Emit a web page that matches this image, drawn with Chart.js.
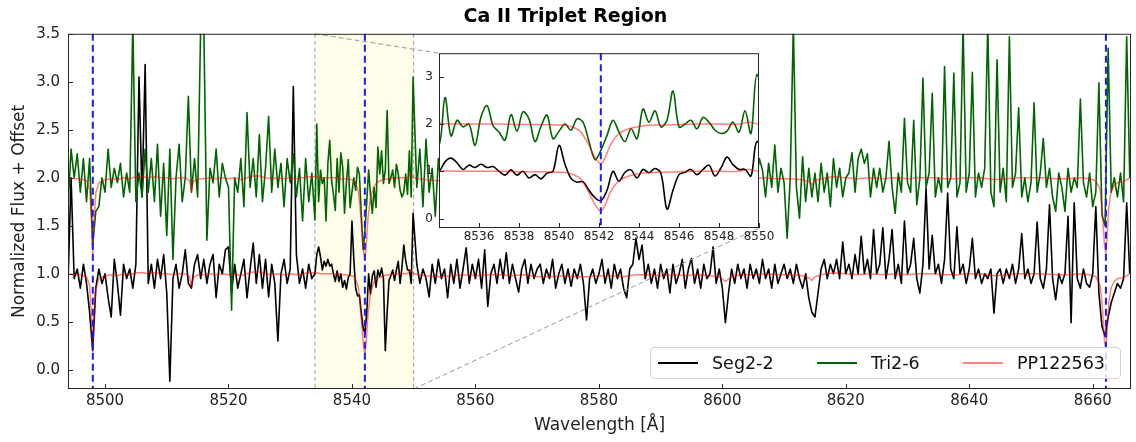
<!DOCTYPE html>
<html>
<head>
<meta charset="utf-8">
<script src="https://cdn.jsdelivr.net/npm/chart.js@4.4.1/dist/chart.umd.min.js"></script>
<style>
  body { margin: 0; background: #fff; }
  #wrap { position: relative; width: 1136px; height: 442px; font-family: 'DejaVu Sans', sans-serif; }
  #mainChart { position: absolute; left: 0; top: 0; }
  #insetChart { position: absolute; left: 400px; top: 40px; }
  #legend {
    position: absolute; left: 650px; top: 347px; width: 471px; height: 32px;
    box-sizing: border-box; border: 1px solid #d4d4d4; border-radius: 4px;
    background: rgba(255,255,255,0.8); display: flex; align-items: center;
    justify-content: space-between; padding: 0 15px 0 7px; font-size: 17.5px; color: #111;
  }
  .item { display: flex; align-items: center; }
  .swatch { width: 40px; height: 0; border-top: 2px solid; margin-right: 14px; }
</style>
</head>
<body>
<div id="wrap">
  <canvas id="mainChart" width="1136" height="442"></canvas>
  <canvas id="insetChart" width="380" height="215"></canvas>
  <div id="legend"></div>
</div>
<script>
const FONT = "'DejaVu Sans', sans-serif";

// wavelength sampling of the two spectra: three pieces, finer inside the zoom window
const gridStarts = [8494.0, 8534.0, 8550.5];
const gridSteps = [0.5, 0.3, 0.5];
const gridCounts = [80, 54, 232];

// Seg2-2 normalized flux
const seg22Flux = [
  // 8494.0 - 8533.5
  0.9, 2.0, 0.95, 1.05, 0.85, 1.1, 0.9, 0.6, 0.2, 0.85,
  1.05, 0.9, 1.0, 0.75, 0.55, 1.15, 0.9, 0.57, 1.1, 0.95,
  1.05, 0.85, 1.1, 3.05, 1.8, 3.18, 0.9, 1.1, 0.85, 1.15,
  0.95, 1.2, 0.8, -0.12, 0.95, 1.1, 0.85, 1.0, 1.25, 0.9,
  0.85, 1.1, 1.2, 0.95, 1.15, 0.9, 1.1, 1.2, 0.75, 1.1,
  1.0, 1.25, 1.28, 0.8, 1.1, 0.85, 1.0, 1.15, 0.75, 1.05,
  1.32, 0.9, 1.2, 0.85, 1.15, 0.76, 1.1, 0.9, 0.3, 1.0,
  1.15, 0.9, 1.05, 2.95, 1.2, 0.9, 1.05, 0.85, 1.1, 0.95,
  // 8534.0 - 8549.9
  1.0, 1.2, 1.28, 1.18, 1.04, 1.13, 1.08, 1.15, 1.08, 1.1,
  1.0, 0.92, 1.03, 0.92, 1.0, 0.86, 0.93, 0.84, 0.96, 1.0,
  1.55, 1.15, 0.85, 0.77, 0.78, 0.6, 0.44, 0.38, 0.6, 1.0,
  0.79, 0.98, 1.03, 0.86, 1.04, 0.97, 1.06, 0.95, 0.2, 0.6,
  0.93, 0.98, 1.04, 0.93, 1.04, 1.13, 0.9, 1.07, 1.3, 1.14,
  1.04, 1.04, 0.9, 1.63,
  // 8550.5 - 8666.0
  1.1, 0.9, 1.05, 0.95, 0.76, 1.1, 0.9, 1.15, 0.95, 1.05,
  0.75, 1.1, 0.9, 1.15, 0.85, 1.05, 1.27, 0.9, 1.1, 0.95,
  1.15, 0.85, 1.25, 0.66, 1.0, 1.1, 0.9, 1.15, 0.95, 1.22,
  0.9, 1.1, 0.95, 0.81, 1.05, 1.15, 0.9, 1.1, 0.95, 1.05,
  1.1, 0.9, 1.05, 0.95, 1.15, 0.85, 1.0, 1.1, 0.9, 1.05,
  0.87, 1.05, 0.95, 1.1, 0.9, 0.52, 0.95, 1.05, 0.9, 1.0,
  1.15, 0.9, 1.05, 0.85, 1.1, 0.95, 1.05, 0.85, 0.75, 1.05,
  1.1, 1.37, 1.15, 1.3, 0.95, 1.1, 0.9, 1.05, 0.85, 1.1,
  0.95, 1.05, 0.8, 1.1, 0.9, 1.0, 1.15, 0.85, 1.05, 1.16,
  0.9, 1.05, 0.85, 1.1, 0.95, 1.0, 1.28, 0.9, 1.05, 0.85,
  0.49, 0.8, 1.05, 0.9, 1.1, 0.95, 1.05, 0.85, 1.1, 0.95,
  1.05, 0.9, 1.15, 0.95, 1.05, 0.85, 1.1, 0.9, 1.0, 1.1,
  0.95, 1.05, 0.9, 1.1, 0.95, 0.85, 1.0, 0.75, 0.6, 0.55,
  0.8, 1.05, 1.15, 0.95, 1.1, 1.0, 1.15, 0.95, 1.33, 1.0,
  1.1, 0.95, 1.2, 1.0, 1.39, 1.0, 1.15, 0.95, 1.46, 1.0,
  1.1, 1.48, 0.95, 1.15, 1.46, 0.95, 1.1, 0.9, 1.55, 1.0,
  1.1, 1.37, 0.95, 0.8, 1.1, 1.89, 1.05, 1.4, 1.0, 1.1,
  0.9, 1.15, 1.84, 1.05, 0.95, 1.49, 1.0, 1.1, 0.9, 1.05,
  1.37, 0.95, 1.05, 0.9, 1.0, 0.95, 1.05, 0.59, 1.0, 1.05,
  0.9, 1.05, 0.95, 1.1, 0.9, 1.05, 1.42, 0.95, 1.05, 0.9,
  1.0, 1.54, 0.95, 0.85, 1.05, 1.72, 0.95, 0.73, 1.0, 0.9,
  1.0, 1.6, 0.49, 1.74, 0.95, 0.85, 1.05, 0.9, 0.86, 1.0,
  1.7, 0.8, 0.45, 0.35, 0.55, 0.7, 0.8, 0.9, 0.85, 0.95, 1.74, 1.0
];

// Tri2-6 normalized flux + 1
const tri26Flux = [
  // 8494.0 - 8533.5
  1.7, 2.3, 2.0, 2.25, 1.85, 2.2, 1.75, 2.2, 1.3, 1.65,
  1.7, 2.0, 1.85, 2.3, 1.9, 2.1, 1.95, 2.15, 1.8, 2.05,
  1.85, 3.6, 1.75, 2.05, 1.8, 2.3, 1.85, 2.2, 1.75, 2.35,
  1.6, 2.15, 1.4, 2.3, 1.15, 2.0, 2.35, 1.75, 2.0, 2.85,
  1.85, 2.2, 1.8, 3.6, 3.6, 1.35, 2.1, 1.95, 2.3, 1.8,
  2.15, 2.0, 1.9, 0.62, 2.0, 1.85, 2.2, 1.7, 2.68, 1.9,
  2.2, 1.8, 2.45, 1.75, 2.1, 2.64, 1.85, 2.3, 1.9, 2.15,
  1.7, 2.2, 1.95, 2.25, 1.8, 2.1, 1.55, 2.2, 1.75, 2.05,
  // 8534.0 - 8549.9
  1.56, 2.56, 1.75, 2.08, 1.94, 2.0, 1.55, 2.15, 2.39, 1.97,
  1.83, 1.66, 2.2, 1.85, 2.26, 2.11, 1.63, 1.95, 2.19, 1.69,
  1.85, 2.0, 1.87, 2.11, 2.04, 1.63, 1.25, 1.45, 1.76, 2.08,
  1.83, 1.63, 1.9, 1.69, 2.32, 2.04, 2.28, 1.94, 2.08, 2.7,
  1.94, 2.0, 2.08, 1.9, 2.14, 2.04, 1.87, 1.8, 1.85, 2.04,
  1.83, 2.28, 1.8, 3.05,
  // 8550.5 - 8666.0
  1.9, 2.3, 1.7, 2.4, 1.85, 2.1, 1.6, 2.2, 1.9, 2.1,
  1.8, 2.25, 1.95, 2.1, 1.7, 2.3, 1.9, 2.05, 1.75, 2.2,
  1.85, 2.1, 1.7, 2.35, 1.95, 2.05, 1.8, 2.2, 1.9, 2.0,
  1.75, 2.25, 1.9, 2.1, 1.8, 2.3, 1.95, 2.0, 1.7, 2.15,
  1.9, 2.05, 1.8, 2.25, 1.95, 2.1, 1.75, 2.2, 1.85, 2.0,
  2.1, 1.8, 2.3, 1.9, 2.05, 1.7, 2.2, 1.95, 2.1, 1.85,
  2.0, 2.25, 1.8, 2.1, 1.9, 2.3, 1.75, 2.05, 1.95, 2.2,
  1.85, 2.1, 1.7, 2.25, 2.0, 1.9, 2.15, 1.8, 2.05, 1.95,
  2.2, 1.8, 2.05, 1.9, 2.3, 1.75, 2.1, 1.95, 2.0, 1.85,
  2.15, 1.9, 2.05, 1.8, 2.25, 1.95, 2.1, 1.7, 2.0, 1.9,
  1.75, 2.1, 1.95, 2.2, 1.85, 2.05, 1.9, 2.3, 1.8, 2.1,
  1.95, 2.2, 2.08, 1.8, 2.15, 1.9, 2.34, 1.85, 2.1, 1.95,
  1.37, 2.0, 3.6, 1.9, 1.58, 2.22, 1.75, 2.1, 1.8, 2.05,
  1.75, 2.15, 1.85, 2.05, 1.7, 2.2, 1.9, 2.1, 1.8, 2.0,
  2.05, 2.26, 1.85, 2.2, 2.3, 2.15, 2.25, 1.8, 2.1, 1.9,
  2.1, 1.85, 2.0, 2.38, 1.9, 1.63, 2.05, 1.85, 2.62, 1.95,
  1.85, 2.6, 1.72, 2.0, 3.04, 1.9, 2.05, 2.88, 1.8, 2.0,
  1.85, 3.16, 1.9, 2.0, 3.09, 1.8, 1.95, 3.6, 1.85, 2.05,
  3.1, 1.8, 2.05, 1.9, 2.1, 3.6, 1.85, 1.7, 3.23, 1.85,
  2.1, 1.75, 3.47, 1.9, 2.05, 2.73, 1.8, 2.0, 1.75, 1.95,
  2.78, 1.85, 2.05, 2.41, 1.9, 2.1, 1.8, 1.65, 2.05, 1.9,
  1.65, 2.1, 1.85, 2.0, 1.9, 2.82, 1.95, 1.8, 2.05, 1.7,
  1.85, 2.99, 1.61, 1.5, 3.35, 1.85, 2.0, 1.8, 2.05, 1.75, 3.47, 2.0
];

// PP122563 model spectrum, drawn under each star (offsets 0 and 1)
const ppWave = [
  8494, 8495, 8496, 8497, 8497.5, 8497.8, 8498.0, 8498.2, 8498.5, 8499,
  8500, 8501, 8502, 8503, 8504, 8505, 8506, 8507, 8508, 8509,
  8510, 8511, 8512, 8513, 8513.7, 8514.0, 8514.3, 8515, 8516, 8517,
  8518, 8519, 8520, 8521, 8522, 8523, 8524, 8525, 8526, 8527,
  8528, 8529, 8530, 8531, 8532, 8533, 8534, 8535, 8536, 8537,
  8538, 8539, 8540, 8540.5, 8541.0, 8541.3, 8541.6, 8541.9, 8542.1, 8542.3,
  8542.6, 8543.0, 8543.5, 8544, 8545, 8546, 8547, 8548, 8549, 8549.5,
  8550, 8552, 8554, 8556, 8558, 8560, 8562, 8564, 8566, 8568,
  8570, 8572, 8574, 8576, 8578, 8580, 8582, 8584, 8586, 8588,
  8590, 8592, 8594, 8596, 8598, 8599.5, 8600.5, 8601.5, 8603, 8605,
  8607, 8609, 8611, 8613, 8614, 8614.5, 8615, 8616, 8618, 8620,
  8622, 8624, 8626, 8628, 8630, 8632, 8634, 8636, 8638, 8640,
  8642, 8644, 8646, 8648, 8650, 8652, 8654, 8656, 8658, 8659.5,
  8660.5, 8661.2, 8661.6, 8661.9, 8662.1, 8662.3, 8662.6, 8663, 8663.5, 8664,
  8665, 8666
];
const ppFlux = [
  1.0, 0.99, 0.99, 0.97, 0.88, 0.55, 0.21, 0.5, 0.84, 0.95,
  0.98, 0.99, 0.98, 1.0, 0.99, 1.01, 1.01, 1.0, 1.01, 1.0,
  1.0, 0.99, 1.0, 1.0, 0.97, 0.86, 0.96, 0.99, 0.99, 1.0,
  0.99, 1.0, 0.99, 1.0, 0.98, 1.0, 1.02, 1.02, 1.0, 0.99,
  1.0, 0.99, 1.0, 0.99, 1.0, 1.01, 1.01, 1.0, 1.0, 1.0,
  0.99, 0.99, 0.98, 0.96, 0.87, 0.7, 0.46, 0.23, 0.16, 0.28,
  0.58, 0.8, 0.9, 0.95, 0.98, 0.99, 1.0, 1.0, 1.0, 1.04,
  1.0, 0.98, 0.97, 0.98, 0.99, 0.98, 0.99, 0.99, 0.98, 0.99,
  0.97, 0.97, 0.98, 0.97, 0.97, 0.98, 0.98, 0.97, 0.99, 0.99,
  0.98, 0.99, 0.98, 0.99, 0.98, 0.97, 0.92, 0.97, 0.99, 0.99,
  1.0, 0.99, 0.99, 0.98, 0.96, 0.93, 0.97, 0.99, 1.01, 1.0,
  0.99, 1.0, 0.99, 1.0, 0.99, 1.0, 1.0, 0.99, 0.99, 1.0,
  1.0, 0.98, 0.99, 1.0, 1.0, 1.0, 0.99, 0.99, 1.0, 0.99,
  0.97, 0.88, 0.62, 0.3, 0.22, 0.35, 0.7, 0.86, 0.92, 0.95,
  0.96, 1.0
];
const modelOffset = 1;

const caLines = [8498.02, 8542.09, 8662.14];
const zoomRange = [8534, 8550];
const mainXTicks = [8500, 8520, 8540, 8560, 8580, 8600, 8620, 8640, 8660];
const mainYTicks = [0, 0.5, 1.0, 1.5, 2.0, 2.5, 3.0, 3.5];
const insetXTicks = [8536, 8538, 8540, 8542, 8544, 8546, 8548, 8550];
const insetYTicks = [0, 1, 2, 3];

// build wavelength axis from the sampling pieces
const wavelength = [];
for (let s = 0; s < gridStarts.length; s++) {
  for (let i = 0; i < gridCounts[s]; i++) {
    wavelength.push(+(gridStarts[s] + i * gridSteps[s]).toFixed(2));
  }
}

function makeDatasets(tension) {
  const common = { pointRadius: 0, fill: false, tension: tension, borderJoinStyle: 'round' };
  return [
    Object.assign({ label: 'Seg2-2', order: 3, borderColor: '#000000', borderWidth: 1.6,
      data: wavelength.map((x, i) => ({ x: x, y: seg22Flux[i] })) }, common),
    Object.assign({ label: 'Tri2-6', order: 2, borderColor: '#006400', borderWidth: 1.6,
      data: wavelength.map((x, i) => ({ x: x, y: tri26Flux[i] })) }, common),
    Object.assign({ label: 'PP122563', order: 1, borderColor: 'rgba(255,0,0,0.5)', borderWidth: 1.5,
      data: ppWave.map((x, i) => ({ x: x, y: ppFlux[i] })) }, common),
    Object.assign({ label: 'PP122563', hideInLegend: true, order: 1, borderColor: 'rgba(255,0,0,0.5)', borderWidth: 1.5,
      data: ppWave.map((x, i) => ({ x: x, y: ppFlux[i] + modelOffset })) }, common)
  ];
}

// frame on four sides plus inward ticks on bottom/left
const frameAndTicks = {
  id: 'frameAndTicks',
  afterDraw(chart) {
    const { ctx, chartArea: a, scales } = chart;
    ctx.save();
    ctx.strokeStyle = '#262626';
    ctx.lineWidth = 1;
    ctx.setLineDash([]);
    ctx.strokeRect(a.left + 0.5, a.top + 0.5, a.right - a.left - 1, a.bottom - a.top - 1);
    ctx.beginPath();
    scales.x.ticks.forEach(t => {
      const px = Math.round(scales.x.getPixelForValue(t.value)) + 0.5;
      ctx.moveTo(px, a.bottom);
      ctx.lineTo(px, a.bottom - 5);
    });
    scales.y.ticks.forEach(t => {
      const py = Math.round(scales.y.getPixelForValue(t.value)) + 0.5;
      ctx.moveTo(a.left, py);
      ctx.lineTo(a.left + 5, py);
    });
    ctx.stroke();
    ctx.restore();
  }
};

// dashed blue Ca II line markers
const caMarkers = {
  id: 'caMarkers',
  afterDatasetsDraw(chart) {
    const { ctx, chartArea: a, scales: { x } } = chart;
    ctx.save();
    ctx.strokeStyle = '#1a1aff';
    ctx.lineWidth = 2;
    ctx.setLineDash([7, 4]);
    caLines.forEach(w => {
      if (w < x.min || w > x.max) return;
      const px = x.getPixelForValue(w);
      ctx.beginPath();
      ctx.moveTo(px, a.top);
      ctx.lineTo(px, a.bottom);
      ctx.stroke();
    });
    ctx.restore();
  }
};

const insetBackground = {
  id: 'insetBackground',
  beforeDraw(chart) {
    const { ctx, chartArea: a } = chart;
    ctx.save();
    ctx.fillStyle = '#ffffff';
    ctx.fillRect(a.left, a.top, a.right - a.left, a.bottom - a.top);
    ctx.restore();
  }
};

function tickScale(ticksList, fontSize, pad, fmt, fitFn) {
  return {
    type: 'linear',
    grid: { display: false, drawTicks: false },
    border: { display: false },
    afterBuildTicks: s => { s.ticks = ticksList.map(v => ({ value: v })); },
    afterFit: fitFn,
    ticks: { font: { family: FONT, size: fontSize }, color: '#222', padding: pad,
             maxRotation: 0, autoSkip: false, callback: fmt }
  };
}

// inset first, so the main chart can draw its connector lines to it
const insetX = tickScale(insetXTicks, 12, 2, v => String(v), s => { s.height = 27; });
insetX.min = zoomRange[0]; insetX.max = zoomRange[1];
const insetY = tickScale(insetYTicks, 12, 6, v => String(v), s => { s.width = 39; });
insetY.min = -0.2; insetY.max = 3.5;

const insetChart = new Chart(document.getElementById('insetChart'), {
  type: 'line',
  data: { datasets: makeDatasets(0.35) },
  options: {
    responsive: false,
    animation: false,
    layout: { padding: { left: 0, top: 10, right: 21, bottom: 0 } },
    plugins: { legend: { display: false }, title: { display: false }, tooltip: { enabled: false } },
    scales: { x: insetX, y: insetY }
  },
  plugins: [insetBackground, caMarkers, frameAndTicks]
});

// shaded zoom window + connector lines to the inset
const zoomWindow = {
  id: 'zoomWindow',
  beforeDatasetsDraw(chart) {
    const { ctx, chartArea: a, scales: { x } } = chart;
    const x0 = x.getPixelForValue(zoomRange[0]);
    const x1 = x.getPixelForValue(zoomRange[1]);
    ctx.save();
    ctx.fillStyle = '#fdfdea';
    ctx.fillRect(x0, a.top, x1 - x0, a.bottom - a.top);
    ctx.strokeStyle = '#9a9a9a';
    ctx.lineWidth = 1;
    ctx.setLineDash([4, 3]);
    ctx.beginPath();
    ctx.moveTo(x0, a.top); ctx.lineTo(x0, a.bottom);
    ctx.moveTo(x1, a.top); ctx.lineTo(x1, a.bottom);
    ctx.stroke();
    ctx.restore();
  },
  afterDatasetsDraw(chart) {
    const { ctx, chartArea: a, scales: { x } } = chart;
    const ia = insetChart.chartArea;
    const ox = insetChart.canvas.offsetLeft, oy = insetChart.canvas.offsetTop;
    ctx.save();
    ctx.strokeStyle = '#9a9a9a';
    ctx.lineWidth = 1;
    ctx.setLineDash([5, 3]);
    ctx.beginPath();
    ctx.moveTo(x.getPixelForValue(zoomRange[0]), a.top);
    ctx.lineTo(ox + ia.left, oy + ia.top);
    ctx.moveTo(x.getPixelForValue(zoomRange[1]), a.bottom);
    ctx.lineTo(ox + ia.right, oy + ia.bottom);
    ctx.stroke();
    ctx.restore();
  }
};

const mainX = tickScale(mainXTicks, 15, 3, v => String(v), s => { s.height = 53; });
mainX.min = 8494; mainX.max = 8666.2;
mainX.title = { display: true, text: 'Wavelength [Å]', color: '#222',
                font: { family: FONT, size: 17 }, padding: { top: 0, bottom: 6 } };
const mainY = tickScale(mainYTicks, 15, 8, v => v.toFixed(1), s => { s.width = 68; });
mainY.min = -0.2; mainY.max = 3.5;
mainY.title = { display: true, text: 'Normalized Flux + Offset', color: '#222',
                font: { family: FONT, size: 17 }, padding: { top: 9, bottom: 0 } };

const mainChart = new Chart(document.getElementById('mainChart'), {
  type: 'line',
  data: { datasets: makeDatasets(0) },
  options: {
    responsive: false,
    animation: false,
    layout: { padding: { left: 0, right: 5, top: 0, bottom: 0 } },
    plugins: {
      legend: { display: false },
      tooltip: { enabled: false },
      title: { display: true, text: 'Ca II Triplet Region', color: '#000',
               font: { family: FONT, size: 19, weight: 'bold' }, padding: { top: 6, bottom: 5 } }
    },
    scales: { x: mainX, y: mainY }
  },
  plugins: [zoomWindow, caMarkers, frameAndTicks]
});

// legend box in the lower right
const legendEl = document.getElementById('legend');
mainChart.data.datasets.filter(d => !d.hideInLegend).forEach(d => {
  const item = document.createElement('div');
  item.className = 'item';
  const sw = document.createElement('span');
  sw.className = 'swatch';
  sw.style.borderTopColor = d.borderColor;
  const txt = document.createElement('span');
  txt.textContent = d.label;
  item.appendChild(sw);
  item.appendChild(txt);
  legendEl.appendChild(item);
});
</script>
</body>
</html>
